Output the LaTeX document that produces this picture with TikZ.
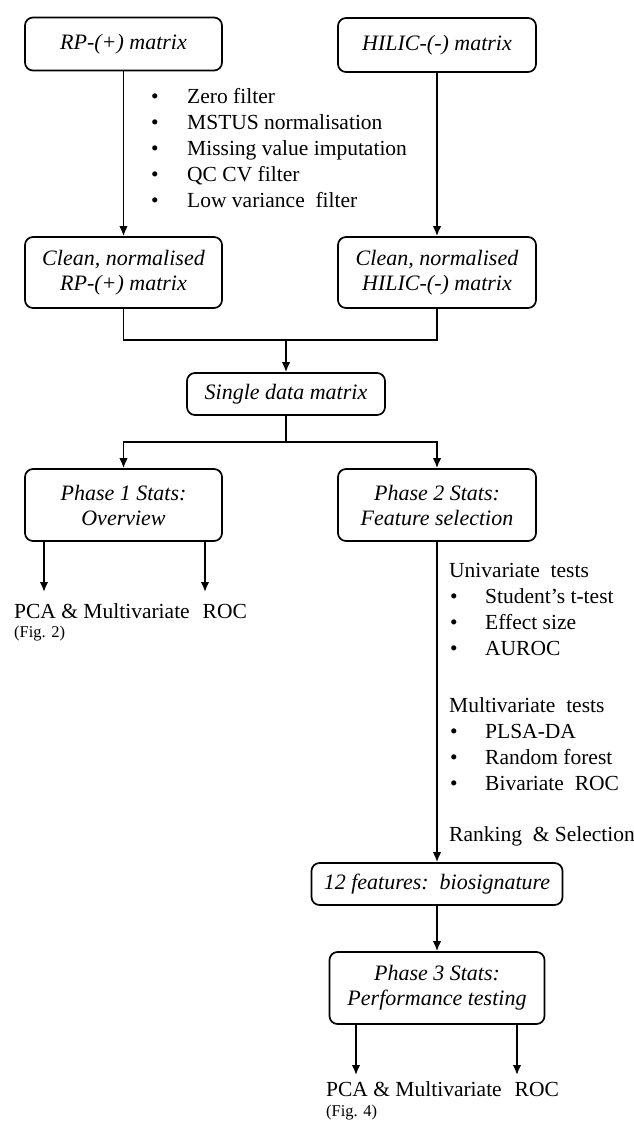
\documentclass[tikz,border=0pt]{standalone}
\usepackage{fontspec}
\setmainfont{Liberation Serif}
\usetikzlibrary{arrows.meta}
\begin{document}
\begin{tikzpicture}[x=1pt,y=-1pt,
  box/.style={draw, line width=1.7pt, rounded corners=8pt, inner sep=0pt, align=center,
    font=\itshape\fontsize{22}{25}\selectfont},
  conn/.style={line width=1.7pt},
  arr/.style={conn, -{Latex[length=10pt,width=8.5pt]}},
  lbl/.style={inner sep=0pt, anchor=base west, font=\fontsize{21.5}{26}\selectfont},
  small/.style={inner sep=0pt, anchor=base west, font=\fontsize{16.5}{18}\selectfont}]
\useasboundingbox (0,0) rectangle (633,1122);

% boxes
\node[box, minimum width=197pt, minimum height=53pt] (rp) at (123.5,44) {RP-(+) matrix};
\node[box, minimum width=198pt, minimum height=54pt] (hi) at (437,45) {HILIC-(-) matrix};
\node[box, minimum width=197pt, minimum height=71pt] (crp) at (123.5,272.5) {Clean, normalised\\RP-(+) matrix};
\node[box, minimum width=198pt, minimum height=71pt] (chi) at (437,272.5) {Clean, normalised\\HILIC-(-) matrix};
\node[box, minimum width=198pt, minimum height=42pt] (single) at (286,394) {Single data matrix};
\node[box, minimum width=197pt, minimum height=72pt] (ph1) at (123.5,505) {Phase 1 Stats:\\Overview};
\node[box, minimum width=198pt, minimum height=72pt] (ph2) at (437,505) {Phase 2 Stats:\\Feature selection};
\node[box, minimum width=251pt, minimum height=42pt] (feat) at (437,884) {12 features:\ \ biosignature};
\node[box, minimum width=215pt, minimum height=72pt] (ph3) at (437,988) {Phase 3 Stats:\\Performance testing};

% preprocessing list
\node[lbl] (z1) at (151,103) {\makebox[36pt][l]{\textbullet}Zero filter};
\node[lbl] (z2) at (151,129) {\makebox[36pt][l]{\textbullet}MSTUS normalisation};
\node[lbl] (z3) at (151,155) {\makebox[36pt][l]{\textbullet}Missing value imputation};
\node[lbl] (z4) at (151,181) {\makebox[36pt][l]{\textbullet}QC CV filter};
\node[lbl] (z5) at (151,207) {\makebox[36pt][l]{\textbullet}Low variance\ \ filter};

% feature selection list
\node[lbl] (u0) at (449,577) {Univariate\ \ tests};
\node[lbl] (u1) at (450,603) {\makebox[35pt][l]{\textbullet}Student’s t-test};
\node[lbl] (u2) at (450,629) {\makebox[35pt][l]{\textbullet}Effect size};
\node[lbl] (u3) at (450,655) {\makebox[35pt][l]{\textbullet}AUROC};
\node[lbl] (v0) at (449,712) {Multivariate\ \ tests};
\node[lbl] (v1) at (450,738) {\makebox[35pt][l]{\textbullet}PLSA-DA};
\node[lbl] (v2) at (450,764) {\makebox[35pt][l]{\textbullet}Random forest};
\node[lbl] (v3) at (450,790) {\makebox[35pt][l]{\textbullet}Bivariate\ \ ROC};
\node[lbl] (rk) at (449,841) {Ranking\ \ \& Selection};

% outputs
\node[lbl] (o1) at (14,618) {PCA \& Multivariate\hspace{0.6em}ROC};
\node[small] (f1) at (14,637) {(Fig. 2)};
\node[lbl] (o2) at (326,1096) {PCA \& Multivariate\hspace{0.6em}ROC};
\node[small] (f2) at (326,1116) {(Fig. 4)};

% connectors
\draw[arr] (rp.south) -- (crp.north);
\draw[arr] (hi.south) -- (chi.north);
\coordinate (m1) at (286,340);
\draw[conn] (crp.south) |- (m1) -| (chi.south);
\draw[arr] (m1) -- (single.north);
\coordinate (m2) at (286,442);
\draw[conn] (single.south) -- (m2);
\draw[arr] (m2) -| (ph1.north);
\draw[arr] (m2) -| (ph2.north);
\coordinate (e1) at (44,592);
\coordinate (e2) at (205,592);
\draw[arr] (e1 |- ph1.south) -- (e1);
\draw[arr] (e2 |- ph1.south) -- (e2);
\draw[arr] (ph2.south) -- (feat.north);
\draw[arr] (feat.south) -- (ph3.north);
\coordinate (e3) at (356,1075);
\coordinate (e4) at (517,1075);
\draw[arr] (e3 |- ph3.south) -- (e3);
\draw[arr] (e4 |- ph3.south) -- (e4);
\end{tikzpicture}
\end{document}
